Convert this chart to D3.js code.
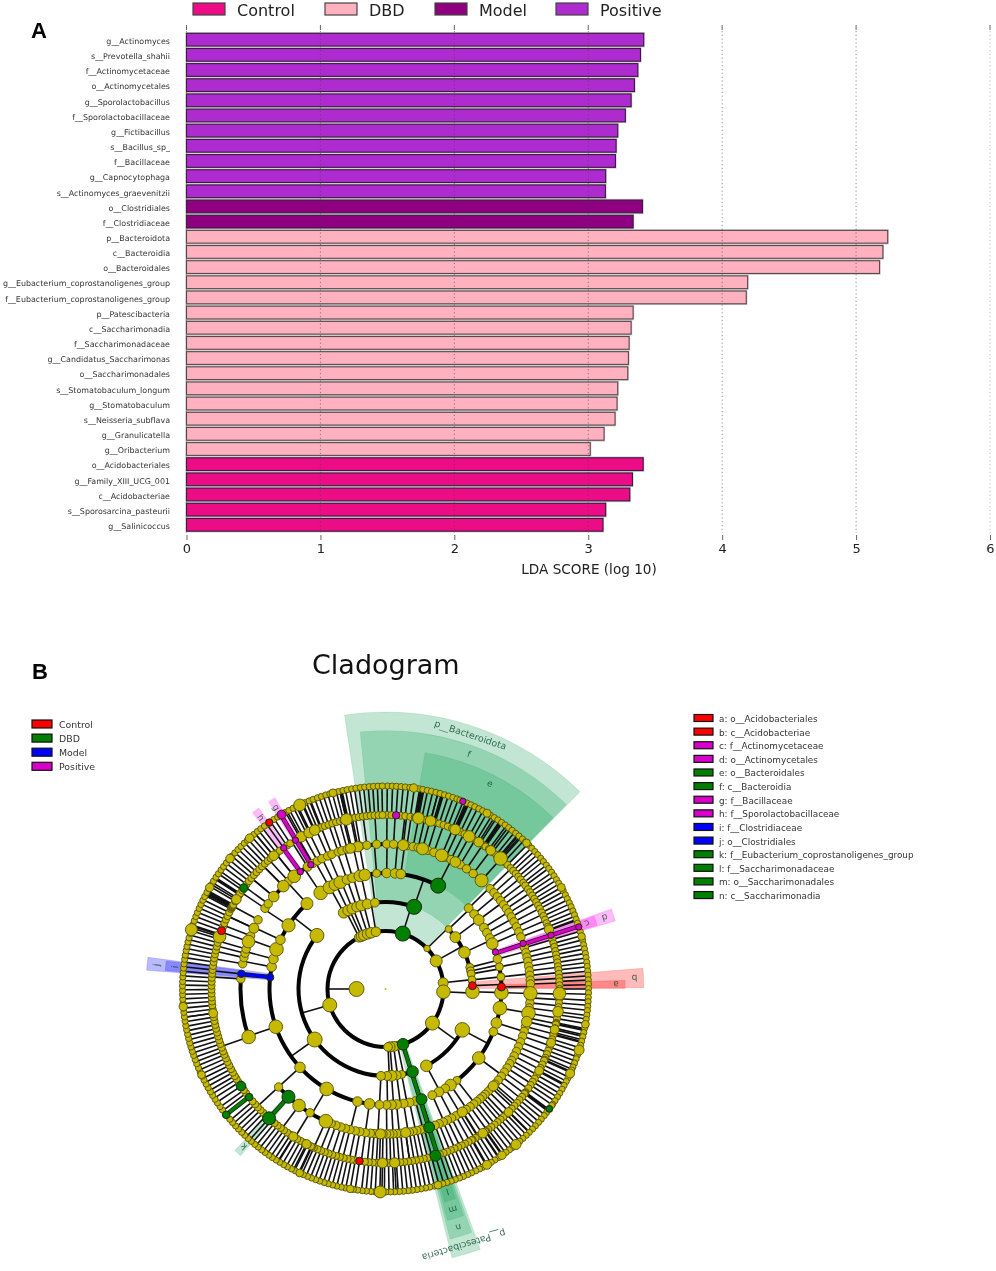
<!DOCTYPE html>
<html><head><meta charset="utf-8">
<script src="https://cdn.jsdelivr.net/npm/d3@7"></script>
<style>html,body{margin:0;padding:0;background:#fff}svg{display:block;filter:blur(.5px)}text{font-family:"DejaVu Sans",sans-serif}</style>
</head><body><svg id="c" width="996" height="1271"></svg>
<script>
// ---------- Panel A data ----------
const taxa=["g__Actinomyces","s__Prevotella_shahii","f__Actinomycetaceae","o__Actinomycetales","g__Sporolactobacillus","f__Sporolactobacillaceae","g__Fictibacillus","s__Bacillus_sp_","f__Bacillaceae","g__Capnocytophaga","s__Actinomyces_graevenitzii","o__Clostridiales","f__Clostridiaceae","p__Bacteroidota","c__Bacteroidia","o__Bacteroidales","g__Eubacterium_coprostanoligenes_group","f__Eubacterium_coprostanoligenes_group","p__Patescibacteria","c__Saccharimonadia","f__Saccharimonadaceae","g__Candidatus_Saccharimonas","o__Saccharimonadales","s__Stomatobaculum_longum","g__Stomatobaculum","s__Neisseria_subflava","g__Granulicatella","g__Oribacterium","o__Acidobacteriales","g__Family_XIII_UCG_001","c__Acidobacteriae","s__Sporosarcina_pasteurii","g__Salinicoccus"];
const lda=[3.414,3.39,3.37,3.345,3.32,3.277,3.22,3.208,3.203,3.13,3.128,3.405,3.335,5.236,5.2,5.175,4.19,4.18,3.335,3.32,3.305,3.3,3.295,3.22,3.215,3.2,3.118,3.015,3.41,3.33,3.31,3.13,3.11];
const barGroup=["Positive","Positive","Positive","Positive","Positive","Positive","Positive","Positive","Positive","Positive","Positive","Model","Model","DBD","DBD","DBD","DBD","DBD","DBD","DBD","DBD","DBD","DBD","DBD","DBD","DBD","DBD","DBD","Control","Control","Control","Control","Control"];
const groups=["Control","DBD","Model","Positive"];
const barColors=["#EC0C86","#FFB1BF","#8E0080","#AE2BD0"];
const cladeColors=["#FF0000","#007F00","#0000FF","#D800C8"];
const xTicks=[0,1,2,3,4,5,6];

// ---------- Panel B data: angle in degrees clockwise from north, one list per taxonomic ring ----------
const cladeLegend=["a: o__Acidobacteriales","b: c__Acidobacteriae","c: f__Actinomycetaceae","d: o__Actinomycetales","e: o__Bacteroidales","f: c__Bacteroidia","g: f__Bacillaceae","h: f__Sporolactobacillaceae","i: f__Clostridiaceae","j: o__Clostridiales","k: f__Eubacterium_coprostanoligenes_group","l: f__Saccharimonadaceae","m: o__Saccharimonadales","n: c__Saccharimonadia"];
const cladeLegendGroup=["Control","Control","Positive","Positive","DBD","DBD","Positive","Positive","Model","Model","DBD","DBD","DBD","DBD"];
const ring1=[[270,7.5]];
const ring2=[[-27,4.8],[-24.5,5.3],[-22,5.3],[-18,5.3],[-14.5,5.3],[-9.5,4.8],[45.7,3.2],[61,6],[83.8,5],[92.7,6.8],[126,7],[168,4.4],[172,5],[175.5,5],[177.5,4.4],[254,7]];
const ring3=[[-52,7],[-28.7,5.4],[-25.4,5.4],[-22.4,5.4],[-19.3,5],[-16.1,5.4],[-12.1,5],[-7,4.4],[46.5,3.5],[53.4,5.4],[65.1,5.8],[75.6,4],[78,4],[80,4],[84,4],[91.8,6.8],[118,7.3],[152,5.8],[169.3,4],[172.6,4.5],[176,5.4],[179,4.5],[183,4.5],[234.5,7.5]];
const ring4=[[-79,4.8],[-75,4.8],[-70,6.8],[-64.9,4.8],[-56.7,6.6],[-42.6,6],[-34,6.8],[-28.9,6.3],[-25.9,5.8],[-23,6.3],[-19.4,4.8],[-16.5,4.8],[-12.8,5.8],[-10.3,5.8],[-4.4,4],[0.6,4.8],[4.7,4.8],[7.6,4.8],[45.8,4.4],[49.8,4.4],[53.5,5.4],[58,4.4],[61,4.4],[64,4.4],[67,5.8],[75,4.4],[79,4],[84,4],[91.8,6.8],[99.5,6.8],[107,5.4],[111.6,4.4],[126.5,6.3],[142,4],[145.9,5.8],[149,4.4],[152.5,4.8],[156.2,4.4],[165,4.4],[168,4.4],[171,4.4],[174.5,4.8],[177,4.8],[179.5,4.4],[183,4.4],[188,5.3],[194,4.8],[210.5,6.8],[227.5,5.3],[251,6.8]];
const ring5=[0.5,3.2,6.4,8.5,11,13,17,19.5,24.6,26.8,31,34,37.2,46.2,48.4,50.5,52.5,54.5,56.4,58.3,60.2,62.4,64.6,66.8,69,73.5,75.5,77.3,79,81,82.8,84.6,86.5,88,93.5,95.5,97.5,101.5,105,107,109,111.4,113.5,115.5,117.5,119.5,121,123,125,127,129,131,133,134.8,136.6,138,139.3,141,142.5,144.3,146.2,147.8,149.2,151,152.9,154.7,156.5,158.3,160,164.5,166,167.5,169,170.5,172,174,175.5,177,178.3,179.6,181,183,184.5,186,188,190.2,192,194.2,196,197.9,200,202,211.4,227.5,274,280,282.5,284.3,286,291.5,294.8,298.5,303.8,306,309.6,315.2,318,321,330,332,334,336.5,338.3,341,342.5,344.7,346.5,348.5,350,352.6,356.5];
const ring5big=[[14.8,6],[22.8,6.3],[28.8,5.3],[41.5,6.5],[91.7,6.8],[99.6,6.8],[103,5.3],[204.3,6.8],[216.6,6.3],[250.7,6.8],[289.1,6.3],[294.8,5],[309.6,5.3],[315.2,5.8],[321,6.3],[327.5,4.5],[7,5.5],[-11,5.2],[-14,5],[132,5],[148,5],[172,5],[182,5]];
const ring6=[0.5,2,5,6.5,8.2,9.7,10,10.3,10.6,12,13.5,15,16,16.3,16.6,18,19.5,21,22.5,23.3,23.9,24.2,25.5,27,30,31.5,33,34.2,34.5,34.8,35.1,36.5,38,39.5,40.6,40.9,41.8,43,44.5,46,47.2,48.5,49.8,51,52.4,53.5,55,56.2,57.5,58.8,60,61.3,62.5,63.9,65.2,66.5,67.8,69,70.3,73.5,74.8,76,77.4,78.6,79.9,81.2,82.5,83.7,85,86.3,87.5,88.8,90,93.2,94.6,96,98.5,99.8,101.2,101.5,101.8,103,104.5,105,105.3,106.8,109.5,110.8,112,113.3,114,114.3,115.7,117,118.3,119.6,121,122.2,123.5,124.8,126.4,126.7,127,128.3,129.6,130.9,132.2,133.5,134.8,136,137.3,138.6,139.9,141.2,142.5,143.8,144.7,145,146.2,147.5,148.8,150,150.3,151.5,152.8,154,155.3,156.6,157.9,159.2,160.5,161.8,164.7,166,167.3,168.6,169.9,171.2,172.5,173.8,175.1,176.4,177.7,179,180.3,181.6,182.9,184.2,185.5,186.8,190,191.3,192.6,193.9,195.2,196.5,197.8,199.1,200.4,201.7,203,204.3,205,205.3,206.6,207.9,209.2,210.5,211.8,213.1,214.4,215.7,217,218.3,219.6,220.9,223.3,224.6,225.9,227.2,228.5,229.8,233.2,234.5,237.5,238.8,240,241.3,242.6,243.9,245.2,246.5,247.8,249,250.3,251.6,252.9,254.2,255.5,256.8,258.1,259.4,260.7,262,263.3,264.6,265.9,267.2,268.5,269.8,271.1,272.4,273.7,275,276.3,277.6,278.9,280.2,281.5,282.8,284.1,285.4,286.7,288,288.3,290.9,292.2,293.5,294.8,296.1,297.4,297.8,298.1,298.4,298.7,299,300.3,301.6,302.8,303,303.3,304.6,307,308.3,309.6,310.9,312.2,313.5,314.8,316.1,317.4,318.7,320,321.3,322.6,325.5,326.8,330.5,331.8,333.1,334.4,335.7,337,338,338.3,339.6,340.9,342.2,343.5,344.8,346,347,347.3,347.6,348.6,349.9,351.2,352.5,353.8,355.1,356.4,357.7,359];
const ring6big=[[10.9,5.8],[15,5.3],[23.6,5.3],[28.7,5.8],[32.4,4.8],[37.2,4.8],[41.4,6.8],[91.5,6.3],[97.5,5.3],[103.5,4.5],[108,4.5],[287.5,6.3],[331,5.3],[334,5.3],[336,5.3],[347,5.8],[320,4.8],[301,4.8],[70,4.6],[118,4.4],[135,4.4],[146,4.8],[177,5],[181,5],[207,4.5],[212,4.6],[262,4.5]];
const ring7=[0.6,1.9,3.1,4.4,5.6,6.9,8.1,9.4,10.6,11.9,13.1,14.4,15.6,16.9,18.1,19.4,20.6,21.5,23.6,24.9,26.1,27.4,28.6,29.9,31.1,32.4,33.6,34.9,36.1,37.4,38.6,39.9,41.1,42.4,43.6,44.9,46.1,47.4,48.6,49.9,51.1,52.4,53.6,54.9,56.1,57.4,58.6,59.9,61.1,62.4,63.6,64.9,66.1,67.4,68.6,69.9,71.1,73.6,74.9,76.1,77.4,78.6,79.9,81.1,82.4,83.6,84.9,86.1,87.4,88.6,89.9,91.1,92.4,93.6,94.9,96.1,97.4,98.6,99.9,101.1,102.4,103.6,104.9,106.1,109,110.1,111.4,112.6,113.5,116,117.1,118.4,119.6,120.9,122.1,123.4,124.6,125,127.5,128.6,129.9,131.1,132.4,133.6,134.9,136.1,137.4,138.6,141.5,142.4,143.6,146.1,147.4,148.6,151.5,152.4,153.6,154.9,156.1,157.4,158.6,159.9,161.1,162.4,163.6,164.9,166.1,167.4,168.6,169.9,171.1,172.4,173.6,174.9,176.1,177.4,178.6,179.9,183,184.1,185.4,186.6,187.9,189.1,191.4,192.6,193.9,195.1,196.4,197.6,198.9,200.1,201.4,202.6,203.9,205.1,206.4,207.6,208.9,210.1,211.4,212.6,213.9,215.1,216.4,217.6,218.9,220.1,221.4,222.6,223.9,225.1,226.4,227.6,228.9,230.1,233.4,234.6,235.9,237.1,238.4,239.6,240.9,242.1,243.4,244.6,245.9,247.1,248.4,249.6,250.9,252.1,253.4,254.6,255.9,257.1,258.4,259.6,260.9,262.1,263.4,264.6,265.9,267.1,268.4,269.6,270.9,272.1,273.4,274.6,275.9,277.1,278.4,279.6,280.9,282.1,283.4,284.6,285.9,288.4,289.6,290.9,292.1,293.4,294.6,295.9,297.1,298.4,299.6,300.9,302.1,303.4,304.6,305.9,307.1,308.4,309.6,310.9,312.1,313.4,314.6,315.9,317.1,318.4,319.6,320.9,322.1,323.4,326.6,327.9,330.4,331.6,332.9,334.1,336.6,337.9,339.1,340.4,341.6,342.9,344.1,345.4,346.6,347.9,349.1,350.4,351.6,352.9,354.1,355.4,356.6,357.9,359.1];
const ring7big=[[107.5,5],[114.6,4.5],[126.2,3.6],[140,5],[145,4.2],[150,4.5],[181.5,6],[190,3.8],[287,6],[335,6],[325,3.8],[30,4],[44,3.9],[60,4],[75,3.8],[100,3.9],[165,4],[205,3.9],[245,3.9],[265,4.2],[300,4.2],[310,4.3],[318,4.3],[345,4],[8,4.2]];
const markedNodes=[[2,17.3,7.5,"DBD"],[3,19.2,7.5,"DBD"],[4,27,7.5,"DBD"],[2,162.4,5.8,"DBD"],[3,161.9,5.8,"DBD"],[4,161.9,5.5,"DBD"],[5,162.5,5.5,"DBD"],[6,163.3,5.5,"DBD"],[5,222,6.5,"DBD"],[6,222,6.5,"DBD"],[6,236.1,4.8,"DBD"],[6,231.6,3.8,"DBD"],[7,231.7,3.8,"DBD"],[7,126.2,3.2,"DBD"],[6,305.5,4.2,"DBD"],[3,87.8,4,"Control"],[4,89,4,"Control"],[6,289.6,4,"Control"],[7,325.1,3.5,"Control"],[6,188.6,3.8,"Control"],[4,71.4,3.2,"Positive"],[5,71.7,3.2,"Positive"],[6,72,3.2,"Positive"],[7,72.2,3.2,"Positive"],[7,329.2,4.5,"Positive"],[6,328.8,3.2,"Positive"],[5,329,3.2,"Positive"],[6,324.2,3.2,"Positive"],[5,324,3.2,"Positive"],[6,3.5,3.7,"Positive"],[7,22.4,3.2,"Positive"],[4,275.8,3.7,"Model"],[5,276,3.7,"Model"]];
const thickBranches=[[4,7,72,"Positive"],[5,7,329,"Positive"],[5,6,324,"Positive"],[4,5,275.9,"Model"],[2,6,162.6,"DBD"],[5,6,222,"DBD"],[6,7,231.7,"DBD"]];
const branchArcs=[[2,0,360],[3,-29,19.2],[3,46.5,92],[3,118,152],[3,162,308],[4,-84,-42],[4,-34,27],[4,45.8,156],[4,162,276],[5,-50,41.5],[5,46,135],[5,190,228],[5,250.7,276]];
// name, ring, from, to, label angle, label rotation, group
const highlightName=["p__Bacteroidota","f","e","p__Patescibacteria","n","m","l","b","a","d","c","j","i","h","g","k"];
const highlightRing=[2,3,4,2,3,4,5,3,4,4,5,4,5,5,5,5];
const highlightFrom=[-8.5,-5.6,9.5,160,160.5,161,161.5,85.4,87.9,70.5,70.8,274.5,274.8,-37,-32,221];
const highlightTo=[44.6,44.4,44.3,166.1,165.5,165,164.5,89.7,89.9,73.5,73.2,277.6,277.3,-35,-30,223];
const highlightAngle=[18.5,19.6,27,163,163,163,163,87.5,88.9,72,72,276,276,-36,-31,222];
const highlightTilt=[18.5,19.6,27,163,163,163,163,178,178,162,162,-84,-84,54,59,222];
const highlightGroup=["DBD","DBD","DBD","DBD","DBD","DBD","DBD","Control","Control","Positive","Positive","Model","Model","Positive","Positive","DBD"];

// ---------- Panel A drawing ----------
const svg=d3.select("#c");
const x=d3.scaleLinear().domain([0,6]).range([186.5,990]);
const y=d3.scaleBand().domain(taxa).range([32.1,532.4]).paddingInner(.16).paddingOuter(.08);
const barFill=d3.scaleOrdinal(groups,barColors);
const cladeFill=d3.scaleOrdinal(groups,cladeColors);

const A=svg.append("g");
A.append("g").selectAll("rect").data(taxa).join("rect")
 .attr("x",x(0)).attr("y",d=>y(d)-.2).attr("width",(d,i)=>x(lda[i])-x(0)).attr("height",y.bandwidth()+.4)
 .attr("fill",(d,i)=>barFill(barGroup[i])).attr("stroke","#c9c9c9").attr("stroke-width",2.2);
A.append("g").selectAll("rect").data(taxa).join("rect")
 .attr("x",x(0)).attr("y",d=>y(d)).attr("width",(d,i)=>x(lda[i])-x(0)).attr("height",y.bandwidth())
 .attr("fill",(d,i)=>barFill(barGroup[i])).attr("stroke",(d,i)=>barGroup[i]==="DBD"?"#5a4a4e":"#3a1a40").attr("stroke-width",1.1);
A.append("g").selectAll("line").data(xTicks).join("line")
 .attr("x1",d=>x(d)).attr("x2",d=>x(d)).attr("y1",31).attr("y2",533)
 .attr("stroke","#444").attr("stroke-opacity",d=>d==6?.35:.6).attr("stroke-dasharray","1.2,2.6").attr("stroke-width",1);
A.append("g").selectAll("line").data(xTicks).join("line")
 .attr("x1",d=>x(d)).attr("x2",d=>x(d)).attr("y1",25).attr("y2",30).attr("stroke","#666");
const xAxis=A.append("g").attr("transform","translate(0,535)").call(d3.axisBottom(x).tickValues(xTicks).tickFormat(d3.format("d")).tickSize(5).tickPadding(4));
xAxis.select(".domain").remove();
xAxis.selectAll("line").attr("stroke","#666");
xAxis.selectAll("text").attr("font-size",13).attr("fill","#222").style("font-family",'"DejaVu Sans"');
const yAxis=A.append("g").attr("transform",`translate(${x(0)},1.7)`).call(d3.axisLeft(y).tickSize(0).tickPadding(16.5));
yAxis.select(".domain").remove();
yAxis.selectAll("text").attr("font-size",7.95).attr("fill","#333").style("font-family",'"DejaVu Sans"');
A.append("text").attr("x",589).attr("y",573.5).attr("text-anchor","middle").attr("font-size",13.6).attr("fill","#222").text("LDA SCORE (log 10)");
const legendX=d3.scaleOrdinal(groups,[193,325,435,556]);
const topLeg=A.append("g").selectAll("g").data(groups).join("g").attr("transform",d=>`translate(${legendX(d)},3)`);
topLeg.append("rect").attr("width",32).attr("height",12).attr("fill",d=>barFill(d)).attr("stroke","#444").attr("stroke-width",1.2);
topLeg.append("text").attr("x",44).attr("y",12.5).attr("font-size",16).attr("fill","#222").text(d=>d);
svg.append("text").attr("x",31).attr("y",38).attr("font-size",22).attr("font-weight",700).style("font-family",'"Liberation Sans"').text("A");
svg.append("text").attr("x",32).attr("y",679).attr("font-size",22).attr("font-weight",700).style("font-family",'"Liberation Sans"').text("B");

// ---------- Panel B drawing ----------
svg.append("text").attr("x",312).attr("y",674).attr("font-size",27).attr("fill","#111").text("Cladogram");
const lg=svg.append("g").selectAll("g").data(groups).join("g").attr("transform",(d,i)=>`translate(32,${720+i*14.1})`);
lg.append("rect").attr("width",20).attr("height",8).attr("fill",d=>cladeFill(d)).attr("stroke","#111").attr("stroke-width",1.2);
lg.append("text").attr("x",27).attr("y",8).attr("font-size",9.4).attr("fill","#333").text(d=>d);
const rg=svg.append("g").selectAll("g").data(cladeLegend).join("g").attr("transform",(d,i)=>`translate(694,${714.5+i*13.62})`);
rg.append("rect").attr("width",19).attr("height",7).attr("fill",(d,i)=>cladeFill(cladeLegendGroup[i])).attr("stroke","#111").attr("stroke-width",1.2);
rg.append("text").attr("x",25).attr("y",7.5).attr("font-size",8.85).attr("fill","#333").text(d=>d);

const C=svg.append("g").attr("transform","translate(385.5,989)");
const rad=d3.scaleLinear().domain([0,7]).range([0,203]);
const outerRing=d3.scaleLinear().domain([2,5]).range([9.55,7.62]);
const rr=Math.PI/180;
const px=(l,a)=>rad(l)*Math.sin(a*rr), py=(l,a)=>-rad(l)*Math.cos(a*rr);
const sectorFill={Control:"#ff0000",DBD:"#1fa35c",Model:"#0000ff",Positive:"#ff00ee"};
const arcGen=d3.arc();
C.append("g").selectAll("path").data(highlightName).join("path")
 .attr("d",(d,i)=>arcGen({innerRadius:rad(highlightRing[i]),outerRadius:rad(outerRing(highlightRing[i])),startAngle:highlightFrom[i]*rr,endAngle:highlightTo[i]*rr}))
 .attr("fill",(d,i)=>sectorFill[highlightGroup[i]]).attr("fill-opacity",.27)
 .attr("stroke",(d,i)=>sectorFill[highlightGroup[i]]).attr("stroke-opacity",.2).attr("stroke-width",.8);
C.append("g").selectAll("text").data(highlightName).join("text")
 .attr("transform",(d,i)=>{const l=outerRing(highlightRing[i])-.31;return `translate(${px(l,highlightAngle[i])},${py(l,highlightAngle[i])}) rotate(${highlightTilt[i]})`})
 .attr("text-anchor","middle").attr("dy",".35em").attr("font-size",(d,i)=>d.length>1?9.4:9).attr("fill","#0b4a2a").attr("fill-opacity",.8).text(d=>d);

const toNodes=(level,list)=>list.map(d=>({l:level,a:d[0],s:d[1]}));
const plain=(level,list,s)=>list.map(a=>({l:level,a,s}));
const nodes=[].concat(toNodes(1,ring1),toNodes(2,ring2),toNodes(3,ring3),toNodes(4,ring4),
 plain(5,ring5,4.2),toNodes(5,ring5big),plain(6,ring6,3.6),toNodes(6,ring6big),plain(7,ring7,3.1),toNodes(7,ring7big));
const marked=markedNodes.map(d=>({l:d[0],a:d[1],s:d[2],g:d[3]}));
const spokes=nodes.concat(marked).filter(d=>d.l<7);
C.append("g").selectAll("line").data(spokes).join("line")
 .attr("x1",d=>px(d.l,d.a)).attr("y1",d=>py(d.l,d.a)).attr("x2",d=>px(d.l+1,d.a)).attr("y2",d=>py(d.l+1,d.a))
 .attr("stroke","#111").attr("stroke-width",1.6);
C.append("g").selectAll("path").data(branchArcs).join("path")
 .attr("d",d=>arcGen({innerRadius:rad(d[0])-2,outerRadius:rad(d[0])+2,startAngle:d[1]*rr,endAngle:d[2]*rr})).attr("fill","#050505");
const thick=C.append("g");
thick.selectAll("line.o").data(thickBranches).join("line").attr("class","o")
 .attr("x1",d=>px(d[0],d[2])).attr("y1",d=>py(d[0],d[2])).attr("x2",d=>px(d[1],d[2])).attr("y2",d=>py(d[1],d[2]))
 .attr("stroke","#1a1a1a").attr("stroke-width",4.6);
thick.selectAll("line.i").data(thickBranches).join("line").attr("class","i")
 .attr("x1",d=>px(d[0],d[2])).attr("y1",d=>py(d[0],d[2])).attr("x2",d=>px(d[1],d[2])).attr("y2",d=>py(d[1],d[2]))
 .attr("stroke",d=>cladeFill(d[3])).attr("stroke-width",3.2);
const drawn=nodes.slice().sort((p,q)=>q.l-p.l);
C.append("g").selectAll("circle").data(drawn).join("circle")
 .attr("cx",d=>px(d.l,d.a)).attr("cy",d=>py(d.l,d.a)).attr("r",d=>d.s)
 .attr("fill","#C6BA00").attr("stroke","#55500a").attr("stroke-width",.9);
C.append("circle").attr("r",1).attr("fill","#C6BA00");
C.append("g").selectAll("circle").data(marked).join("circle")
 .attr("cx",d=>px(d.l,d.a)).attr("cy",d=>py(d.l,d.a)).attr("r",d=>d.s)
 .attr("fill",d=>cladeFill(d.g)).attr("stroke","#1a2a10").attr("stroke-width",1);
</script></body></html>
